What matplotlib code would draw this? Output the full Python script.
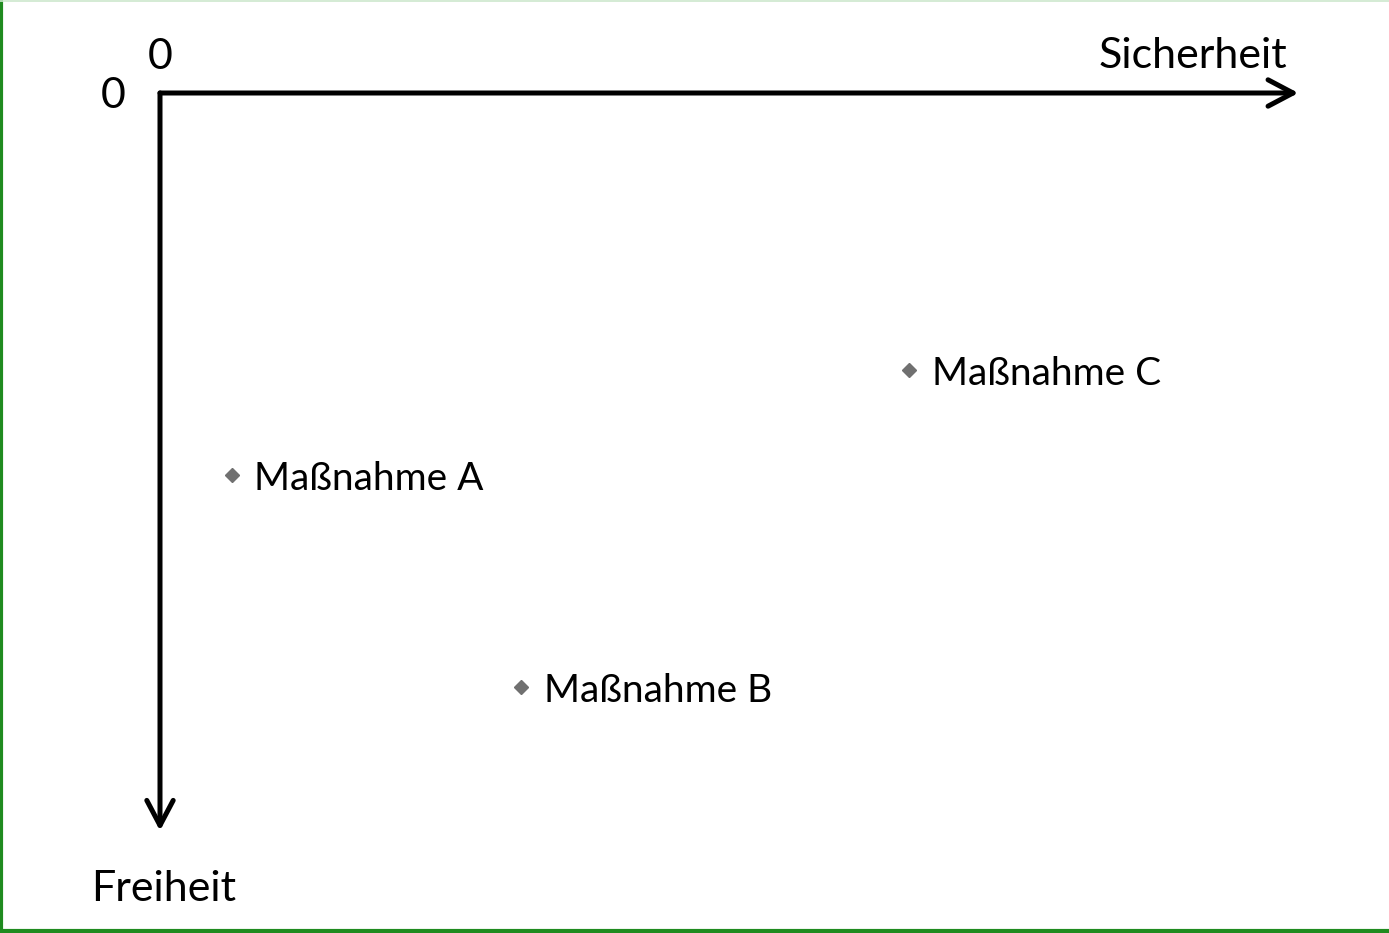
import matplotlib.pyplot as plt
from matplotlib.lines import Line2D

plt.rcParams['font.family'] = ['Lato', 'DejaVu Sans']

# Maßnahmen: Sicherheit (x) und Freiheit (y, nach unten)
massnahmen = ['Maßnahme A', 'Maßnahme B', 'Maßnahme C']
sicherheit = [0.63, 3.18, 6.60]
freiheit = [3.37, 5.23, 2.44]

x_max = 10.03
y_max = 6.5
px_pro_einheit = 113.5

fig = plt.figure(figsize=(13.89, 9.33), dpi=100)
ax = fig.add_axes([0, 0, 1, 1])
ax.set_xlim(-160 / px_pro_einheit, (1389 - 160) / px_pro_einheit)
ax.set_ylim((933 - 93) / px_pro_einheit, -93 / px_pro_einheit)
ax.axis('off')

pfeil = dict(arrowstyle='->, head_length=18, head_width=9.5', lw=3.6,
             color='black', mutation_scale=1, shrinkA=0, shrinkB=0)
ax.annotate('', xy=(x_max, 0), xytext=(0, 0), arrowprops=pfeil)
ax.annotate('', xy=(0, y_max), xytext=(0, 0), arrowprops=pfeil)

achse = 31
ax.text(0, -0.32, '0', fontsize=achse, ha='center', va='center')
ax.text(-0.41, 0.03, '0', fontsize=achse, ha='center', va='center')
ax.text(9.93, -0.33, 'Sicherheit', fontsize=achse, ha='right', va='center')
ax.text(0.03, 7.01, 'Freiheit', fontsize=achse, ha='center', va='center')

ax.plot(sicherheit, freiheit, linestyle='none', marker='D', markersize=7,
        color='#707070')
for name, x, y in zip(massnahmen, sicherheit, freiheit):
    ax.text(x + 0.2, y + 0.035, name, fontsize=28, ha='left', va='center')

# Rahmen
fig.add_artist(Line2D([0.001, 0.001], [0, 1], transform=fig.transFigure,
                      color='#1f8b1f', lw=3))
fig.add_artist(Line2D([0, 1], [0.002, 0.002], transform=fig.transFigure,
                      color='#1f8b1f', lw=3))
fig.add_artist(Line2D([0, 1], [0.999, 0.999], transform=fig.transFigure,
                      color='#cde8cd', lw=1.2))

fig.savefig('out.png', dpi=100)
